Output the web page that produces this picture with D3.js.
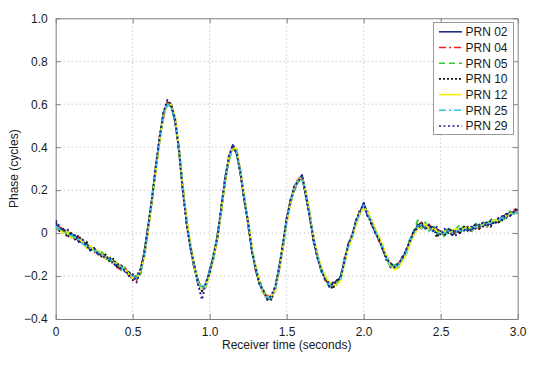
<!DOCTYPE html>
<html>
<head>
<meta charset="utf-8">
<script src="https://cdn.jsdelivr.net/npm/d3@7"></script>
<style>
  html, body { margin: 0; padding: 0; background: #fff; }
  svg { display: block; }
  text { font-family: "Liberation Sans", Arial, Helvetica, sans-serif; fill: #1a1a1a; }
</style>
</head>
<body>
<svg id="chart" width="557" height="369"></svg>
<script>
// ---- data ----
const timeStep = 0.025; // seconds between samples, 0 .. 3.0 s
const seriesNames = ["PRN 02", "PRN 04", "PRN 05", "PRN 10", "PRN 12", "PRN 25", "PRN 29"];
const xTicks = [0, 0.5, 1.0, 1.5, 2.0, 2.5, 3.0];
const xTickLabels = ["0", "0.5", "1.0", "1.5", "2.0", "2.5", "3.0"];
const yTicks = [-0.4, -0.2, 0, 0.2, 0.4, 0.6, 0.8, 1.0];
const yTickLabels = ["\u22120.4", "\u22120.2", "0", "0.2", "0.4", "0.6", "0.8", "1.0"];

const prn02 = [0.04,0.02,0.01,0.01,-0.02,-0.01,-0.04,-0.04,-0.05,-0.08,
  -0.07,-0.10,-0.09,-0.12,-0.12,-0.13,-0.16,-0.15,-0.18,-0.18,
  -0.21,-0.20,-0.19,-0.09,0.03,0.15,0.31,0.43,0.56,0.60,
  0.60,0.52,0.40,0.20,0.06,-0.07,-0.15,-0.24,-0.25,-0.25,
  -0.17,-0.12,-0.01,0.10,0.26,0.34,0.41,0.37,0.29,0.15,
  0.05,-0.09,-0.16,-0.24,-0.27,-0.31,-0.29,-0.27,-0.16,-0.07,
  0.07,0.14,0.22,0.24,0.27,0.17,0.09,-0.04,-0.10,-0.18,
  -0.20,-0.25,-0.23,-0.24,-0.20,-0.14,-0.05,-0.02,0.06,0.09,
  0.14,0.08,0.06,0.00,-0.02,-0.08,-0.11,-0.16,-0.15,-0.16,
  -0.11,-0.10,-0.03,-0.01,0.04,0.03,0.04,0.02,0.03,0.00,
  0.01,-0.01,0.02,-0.01,0.02,0.00,0.03,0.01,0.03,0.02,
  0.04,0.03,0.05,0.04,0.06,0.05,0.08,0.07,0.10,0.09,
  0.11];
const prn04 = [0.02,0.03,0.00,0.01,-0.01,-0.03,-0.02,-0.05,-0.05,-0.07,
  -0.09,-0.08,-0.11,-0.10,-0.13,-0.13,-0.16,-0.17,-0.16,-0.20,
  -0.19,-0.22,-0.17,-0.11,0.01,0.17,0.29,0.45,0.54,0.61,
  0.58,0.54,0.38,0.22,0.04,-0.05,-0.17,-0.22,-0.27,-0.23,
  -0.19,-0.10,-0.03,0.12,0.24,0.36,0.39,0.39,0.27,0.17,
  0.03,-0.07,-0.18,-0.22,-0.29,-0.29,-0.31,-0.25,-0.18,-0.05,
  0.05,0.16,0.20,0.26,0.25,0.19,0.07,-0.02,-0.12,-0.16,
  -0.22,-0.23,-0.25,-0.22,-0.22,-0.12,-0.07,0.00,0.04,0.11,
  0.12,0.10,0.04,0.02,-0.04,-0.06,-0.13,-0.14,-0.17,-0.14,
  -0.13,-0.08,-0.05,0.01,0.02,0.05,0.02,0.04,0.01,0.02,
  -0.01,0.01,0.00,0.01,0.00,0.02,0.01,0.03,0.01,0.04,
  0.02,0.05,0.03,0.06,0.04,0.07,0.06,0.09,0.08,0.11,
  0.09];
const prn05 = [0.03,0.01,0.02,-0.01,0.00,-0.02,-0.03,-0.03,-0.06,-0.06,
  -0.08,-0.10,-0.09,-0.11,-0.13,-0.13,-0.14,-0.17,-0.16,-0.19,
  -0.20,-0.20,-0.19,-0.10,0.03,0.16,0.31,0.44,0.55,0.60,
  0.59,0.52,0.40,0.21,0.06,-0.06,-0.15,-0.23,-0.25,-0.25,
  -0.18,-0.10,-0.02,0.12,0.25,0.34,0.40,0.38,0.27,0.16,
  0.05,-0.08,-0.18,-0.23,-0.27,-0.31,-0.30,-0.26,-0.16,-0.06,
  0.06,0.14,0.21,0.24,0.26,0.18,0.09,-0.03,-0.10,-0.18,
  -0.21,-0.23,-0.25,-0.23,-0.20,-0.13,-0.06,-0.02,0.05,0.10,
  0.12,0.09,0.05,0.02,-0.03,-0.08,-0.12,-0.16,-0.15,-0.14,
  -0.12,-0.09,-0.03,0.00,0.06,0.02,0.05,0.01,0.04,-0.01,
  0.02,-0.02,0.03,0.00,0.02,0.04,0.01,0.03,0.00,0.05,
  0.02,0.05,0.03,0.07,0.04,0.06,0.05,0.08,0.10,0.09,
  0.10];
const prn10 = [0.05,0.01,0.02,-0.02,0.00,-0.03,-0.01,-0.05,-0.04,-0.08,
  -0.07,-0.09,-0.11,-0.10,-0.13,-0.12,-0.16,-0.15,-0.18,-0.18,
  -0.22,-0.20,-0.17,-0.09,0.02,0.15,0.30,0.44,0.56,0.61,
  0.59,0.53,0.39,0.21,0.05,-0.06,-0.17,-0.22,-0.27,-0.24,
  -0.18,-0.11,-0.03,0.11,0.24,0.35,0.41,0.38,0.28,0.16,
  0.04,-0.08,-0.17,-0.24,-0.28,-0.30,-0.31,-0.26,-0.17,-0.07,
  0.06,0.15,0.20,0.25,0.26,0.17,0.08,-0.04,-0.11,-0.17,
  -0.21,-0.24,-0.26,-0.22,-0.21,-0.12,-0.06,-0.01,0.04,0.10,
  0.13,0.10,0.04,0.01,-0.03,-0.07,-0.13,-0.14,-0.16,-0.16,
  -0.12,-0.08,-0.04,0.01,0.03,0.05,0.02,0.03,0.03,-0.02,
  0.01,-0.01,0.02,-0.01,0.01,0.00,0.03,0.02,0.02,0.04,
  0.02,0.04,0.05,0.03,0.06,0.05,0.07,0.09,0.08,0.10,
  0.12];
const prn12 = [0.03,0.02,0.00,0.01,-0.02,-0.02,-0.03,-0.04,-0.07,-0.06,
  -0.08,-0.08,-0.10,-0.12,-0.11,-0.14,-0.14,-0.16,-0.17,-0.19,
  -0.21,-0.21,-0.18,-0.11,0.01,0.15,0.29,0.43,0.55,0.60,
  0.60,0.54,0.40,0.22,0.06,-0.05,-0.16,-0.23,-0.26,-0.25,
  -0.19,-0.12,-0.03,0.10,0.24,0.35,0.40,0.39,0.29,0.17,
  0.05,-0.07,-0.16,-0.23,-0.28,-0.30,-0.29,-0.27,-0.18,-0.07,
  0.05,0.14,0.21,0.25,0.26,0.19,0.09,-0.02,-0.10,-0.16,
  -0.20,-0.23,-0.24,-0.24,-0.22,-0.14,-0.07,-0.02,0.04,0.09,
  0.12,0.10,0.06,0.02,-0.02,-0.06,-0.11,-0.15,-0.17,-0.16,
  -0.13,-0.10,-0.05,-0.01,0.02,0.03,0.04,0.02,0.02,0.01,
  0.00,0.01,0.00,0.01,0.02,0.01,0.02,0.03,0.02,0.03,
  0.03,0.04,0.04,0.05,0.06,0.06,0.07,0.08,0.09,0.09,
  0.10];
const prn25 = [0.03,0.02,0.01,0.00,-0.01,-0.02,-0.03,-0.05,-0.06,-0.07,
  -0.08,-0.09,-0.10,-0.11,-0.12,-0.14,-0.15,-0.16,-0.18,-0.19,
  -0.20,-0.21,-0.18,-0.10,0.02,0.16,0.30,0.44,0.55,0.60,
  0.59,0.53,0.39,0.21,0.05,-0.06,-0.16,-0.23,-0.26,-0.24,
  -0.18,-0.11,-0.02,0.11,0.25,0.35,0.40,0.38,0.28,0.16,
  0.04,-0.08,-0.17,-0.23,-0.28,-0.30,-0.30,-0.26,-0.17,-0.06,
  0.06,0.15,0.21,0.25,0.26,0.18,0.08,-0.03,-0.11,-0.17,
  -0.21,-0.24,-0.24,-0.23,-0.21,-0.13,-0.06,-0.01,0.05,0.10,
  0.13,0.09,0.05,0.01,-0.03,-0.07,-0.12,-0.15,-0.16,-0.15,
  -0.12,-0.09,-0.04,0.00,0.03,0.04,0.03,0.02,0.01,0.00,
  0.00,0.00,0.01,0.00,0.01,0.01,0.02,0.02,0.02,0.03,
  0.03,0.04,0.04,0.05,0.05,0.06,0.07,0.08,0.09,0.09,
  0.10];
const prn29 = [0.06,0.03,0.01,0.02,-0.01,-0.01,-0.04,-0.03,-0.06,-0.08,
  -0.07,-0.10,-0.10,-0.12,-0.11,-0.15,-0.14,-0.17,-0.17,-0.20,
  -0.19,-0.23,-0.17,-0.10,0.03,0.16,0.31,0.45,0.56,0.62,
  0.60,0.53,0.39,0.20,0.04,-0.07,-0.15,-0.24,-0.31,-0.23,
  -0.19,-0.10,-0.02,0.12,0.25,0.36,0.41,0.37,0.28,0.15,
  0.05,-0.09,-0.17,-0.24,-0.27,-0.31,-0.29,-0.25,-0.17,-0.05,
  0.07,0.15,0.22,0.24,0.27,0.18,0.07,-0.03,-0.12,-0.17,
  -0.22,-0.23,-0.24,-0.22,-0.21,-0.13,-0.05,-0.01,0.06,0.10,
  0.14,0.08,0.05,0.00,-0.03,-0.08,-0.12,-0.14,-0.16,-0.14,
  -0.12,-0.08,-0.04,0.01,0.02,0.04,0.02,0.04,0.01,0.03,
  -0.01,0.02,0.00,0.02,-0.01,0.02,0.01,0.03,0.01,0.04,
  0.03,0.05,0.03,0.06,0.04,0.07,0.06,0.09,0.08,0.10,
  0.11];

const seriesValues = [prn02, prn04, prn05, prn10, prn12, prn25, prn29];

// ---- styles ----
const seriesColors = ["#1c2a8a", "#ff1a1a", "#33cc33", "#111111", "#f2f20a", "#33c4e8", "#1c1c9a"];
const seriesDash = [null, "7,3,2,3", "6,4", "2,2", null, "7,3,2,3", "2,2.5"];

// ---- layout ----
const svg = d3.select("#chart");
const plotLeft = 55.7, plotRight = 517.7, plotTop = 18.3, plotBottom = 319;

const x = d3.scaleLinear().domain([0, 3]).range([plotLeft, plotRight]);
const y = d3.scaleLinear().domain([-0.4, 1.0]).range([plotBottom, plotTop]);

// grid
const grid = svg.append("g");
xTicks.slice(1, -1).forEach(t => {
  grid.append("line").attr("x1", x(t)).attr("x2", x(t)).attr("y1", plotTop).attr("y2", plotBottom)
    .attr("stroke", "#c8c8c8").attr("stroke-width", 1).attr("stroke-dasharray", "1.5,2.5");
});
yTicks.slice(1, -1).forEach(t => {
  grid.append("line").attr("x1", plotLeft).attr("x2", plotRight).attr("y1", y(t)).attr("y2", y(t))
    .attr("stroke", "#c8c8c8").attr("stroke-width", 1).attr("stroke-dasharray", "1.5,2.5");
});

// axes (ticks inward on all sides)
const frameColor = "#808080";
const xAxisB = d3.axisBottom(x).tickValues(xTicks).tickFormat((d, i) => xTickLabels[i]).tickSizeInner(-5).tickSizeOuter(0).tickPadding(8);
const xAxisT = d3.axisTop(x).tickValues(xTicks).tickFormat("").tickSizeInner(-5).tickSizeOuter(0);
const yAxisL = d3.axisLeft(y).tickValues(yTicks).tickFormat((d, i) => yTickLabels[i]).tickSizeInner(-5).tickSizeOuter(0).tickPadding(8);
const yAxisR = d3.axisRight(y).tickValues(yTicks).tickFormat("").tickSizeInner(-5).tickSizeOuter(0);

function styleAxis(g) {
  g.select(".domain").attr("stroke", frameColor).attr("stroke-width", 1);
  g.selectAll(".tick line").attr("stroke", frameColor);
  g.selectAll(".tick text").attr("font-size", 12).attr("fill", "#1a1a1a")
    .attr("font-family", "'Liberation Sans', Arial, Helvetica, sans-serif");
}
svg.append("g").attr("transform", `translate(0,${plotBottom})`).call(xAxisB).call(styleAxis);
svg.append("g").attr("transform", `translate(0,${plotTop})`).call(xAxisT).call(styleAxis);
svg.append("g").attr("transform", `translate(${plotLeft},0)`).call(yAxisL).call(styleAxis);
svg.append("g").attr("transform", `translate(${plotRight},0)`).call(yAxisR).call(styleAxis);

// lines
svg.append("clipPath").attr("id", "clip").append("rect")
  .attr("x", plotLeft).attr("y", plotTop).attr("width", plotRight - plotLeft).attr("height", plotBottom - plotTop);
const line = d3.line().x((d, i) => x(i * timeStep)).y(d => y(d));
const lines = svg.append("g").attr("clip-path", "url(#clip)");
seriesValues.forEach((vals, k) => {
  lines.append("path").datum(vals).attr("d", line)
    .attr("fill", "none").attr("stroke", seriesColors[k]).attr("stroke-width", 1.9)
    .attr("stroke-linejoin", "round")
    .attr("stroke-dasharray", seriesDash[k]);
});

// axis labels
svg.append("text").attr("x", (plotLeft + plotRight) / 2).attr("y", 349).attr("text-anchor", "middle")
  .attr("font-size", 12).text("Receiver time (seconds)");
svg.append("text").attr("transform", `translate(18,${(plotTop + plotBottom) / 2}) rotate(-90)`)
  .attr("text-anchor", "middle").attr("font-size", 12).text("Phase (cycles)");

// legend
const lg = svg.append("g");
lg.append("rect").attr("x", 433.5).attr("y", 22.5).attr("width", 80).attr("height", 112)
  .attr("fill", "#fff").attr("stroke", "#9a9a9a").attr("stroke-width", 1);
seriesNames.forEach((name, k) => {
  const cy = 31.8 + k * 15.7;
  lg.append("line").attr("x1", 439).attr("x2", 462).attr("y1", cy).attr("y2", cy)
    .attr("stroke", seriesColors[k]).attr("stroke-width", 1.6).attr("stroke-dasharray", seriesDash[k]);
  lg.append("text").attr("x", 465.5).attr("y", cy + 4.3).attr("font-size", 12).text(name);
});
</script>
</body>
</html>
